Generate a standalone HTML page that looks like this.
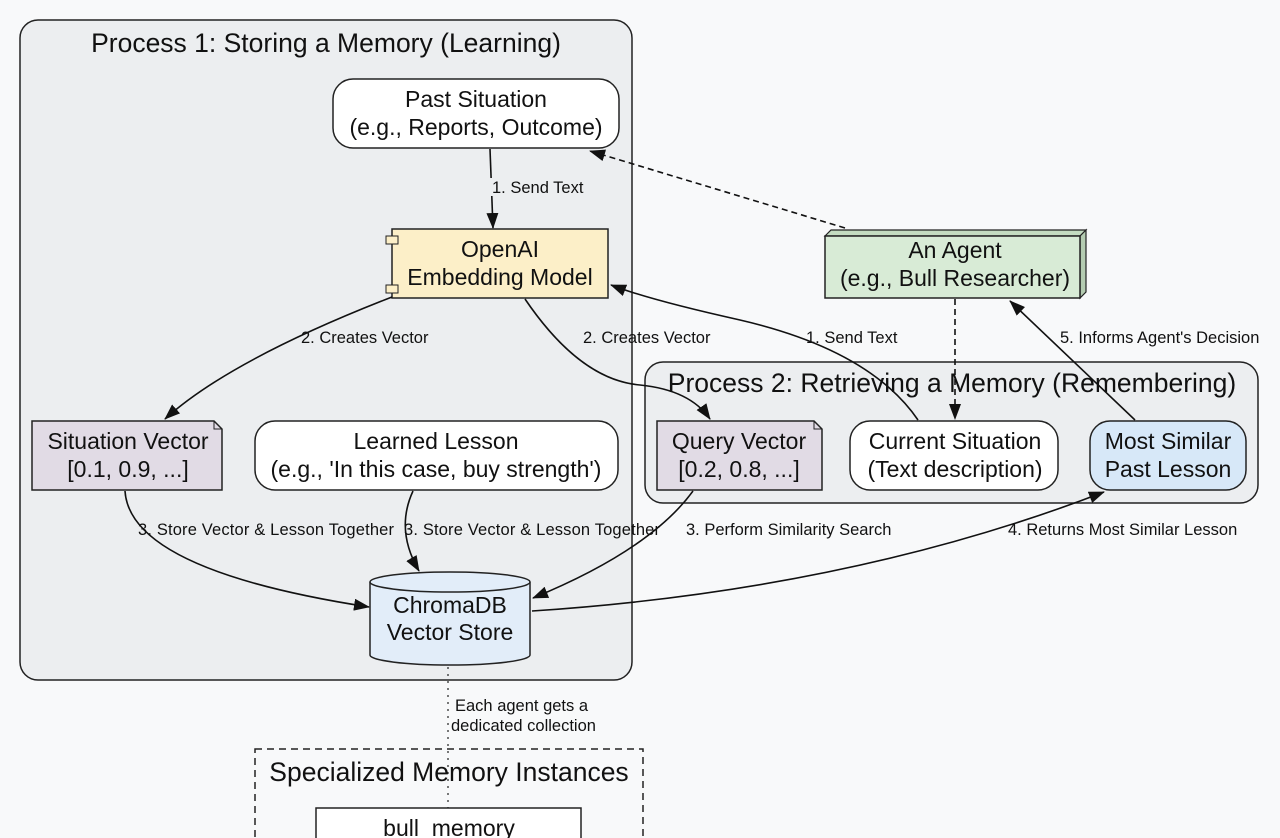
<!DOCTYPE html>
<html><head><meta charset="utf-8"><style>
html,body{margin:0;padding:0;background:#f8f9fa}
svg{display:block}
text{font-family:"Liberation Sans",sans-serif;fill:#111}
.n{font-size:23px;text-anchor:middle}
.l{font-size:16.5px}
.t{font-size:26.5px;text-anchor:middle}
</style></head><body>
<svg width="1280" height="838" viewBox="0 0 1280 838" xmlns="http://www.w3.org/2000/svg">
<defs>
<marker id="a" markerWidth="16" markerHeight="12" refX="15" refY="6" orient="auto" markerUnits="userSpaceOnUse">
<path d="M0,0 L16,6 L0,12 z" fill="#111"/></marker>
</defs>
<rect width="1280" height="838" fill="#f8f9fa"/>
<!-- Process 1 -->
<rect x="20" y="20" width="612" height="660" rx="18" fill="#eceef0" stroke="#222" stroke-width="1.5"/>
<text class="t" x="326" y="52">Process 1: Storing a Memory (Learning)</text>
<!-- Process 2 -->
<rect x="645" y="362" width="613" height="141" rx="18" fill="#eceef0" stroke="#222" stroke-width="1.5"/>
<text class="t" x="952" y="392">Process 2: Retrieving a Memory (Remembering)</text>
<!-- Past situation -->
<rect x="333" y="79" width="286" height="69" rx="20" fill="#fff" stroke="#222" stroke-width="1.5"/>
<text class="n" x="476" y="107">Past Situation</text>
<text class="n" x="476" y="135">(e.g., Reports, Outcome)</text>
<!-- OpenAI -->
<rect x="392" y="229" width="216" height="69" fill="#fcefc8" stroke="#222" stroke-width="1.5"/>
<rect x="386" y="236" width="12" height="8" fill="#fcefc8" stroke="#222"/>
<rect x="386" y="285" width="12" height="8" fill="#fcefc8" stroke="#222"/>
<text class="n" x="500" y="257">OpenAI</text>
<text class="n" x="500" y="285">Embedding Model</text>
<!-- Agent -->
<path d="M825,236 L831,230 L1086,230 L1080,236 z" fill="#c4dcc1" stroke="#222" stroke-width="1.2"/>
<path d="M1080,236 L1086,230 L1086,292 L1080,298 z" fill="#b4ccb1" stroke="#222" stroke-width="1.2"/>
<rect x="825" y="236" width="255" height="62" fill="#d8ebd6" stroke="#222" stroke-width="1.5"/>
<text class="n" x="955" y="258">An Agent</text>
<text class="n" x="955" y="286">(e.g., Bull Researcher)</text>
<!-- Situation vector -->
<path d="M32,421 L214,421 L222,429 L222,490 L32,490 z" fill="#e1dbe5" stroke="#222" stroke-width="1.5"/>
<path d="M214,421 L214,429 L222,429" fill="none" stroke="#222"/>
<text class="n" x="128" y="449">Situation Vector</text>
<text class="n" x="128" y="477">[0.1, 0.9, ...]</text>
<!-- Learned Lesson -->
<rect x="255" y="421" width="363" height="69" rx="20" fill="#fff" stroke="#222" stroke-width="1.5"/>
<text class="n" x="436" y="449">Learned Lesson</text>
<text class="n" x="436" y="477">(e.g., 'In this case, buy strength')</text>
<!-- Query vector -->
<path d="M657,421 L814,421 L822,429 L822,490 L657,490 z" fill="#e1dbe5" stroke="#222" stroke-width="1.5"/>
<path d="M814,421 L814,429 L822,429" fill="none" stroke="#222"/>
<text class="n" x="739" y="449">Query Vector</text>
<text class="n" x="739" y="477">[0.2, 0.8, ...]</text>
<!-- Current situation -->
<rect x="850" y="421" width="208" height="69" rx="20" fill="#fff" stroke="#222" stroke-width="1.5"/>
<text class="n" x="955" y="449">Current Situation</text>
<text class="n" x="955" y="477">(Text description)</text>
<!-- Most similar -->
<rect x="1090" y="421" width="156" height="69" rx="20" fill="#d7e8f8" stroke="#222" stroke-width="1.5"/>
<text class="n" x="1168" y="449">Most Similar</text>
<text class="n" x="1168" y="477">Past Lesson</text>
<!-- Chroma cylinder -->
<path d="M370,582 L370,655 A80,10 0 0 0 530,655 L530,582" fill="#e2edf9" stroke="#222" stroke-width="1.5"/>
<ellipse cx="450" cy="582" rx="80" ry="10" fill="#e2edf9" stroke="#222" stroke-width="1.5"/>
<text class="n" x="450" y="613">ChromaDB</text>
<text class="n" x="450" y="640">Vector Store</text>
<!-- Specialized -->
<rect x="255" y="749" width="388" height="100" fill="none" stroke="#222" stroke-width="1.5" stroke-dasharray="7,5"/>
<text class="t" x="449" y="781">Specialized Memory Instances</text>
<rect x="316" y="808" width="265" height="40" fill="#fff" stroke="#222" stroke-width="1.5"/>
<text class="n" x="449" y="836">bull_memory</text>
<line x1="448" y1="667" x2="448" y2="808" stroke="#222" stroke-width="1.2" stroke-dasharray="2,5"/>
<text class="l" x="455" y="711">Each agent gets a</text>
<text class="l" x="451" y="731">dedicated collection</text>
<!-- edges -->
<g fill="none" stroke="#111" stroke-width="1.6">
<path d="M490,149 L493,228" marker-end="url(#a)"/>
<path d="M845,228 L590,151" stroke-dasharray="6,4" marker-end="url(#a)"/>
<path d="M392,297 Q230,360 165,419" marker-end="url(#a)"/>
<path d="M525,299 Q580,380 640,385 Q690,390 710,419" marker-end="url(#a)"/>
<path d="M918,420 Q870,350 740,320 Q650,300 611,285" marker-end="url(#a)"/>
<path d="M955,299 L955,419" stroke-dasharray="6,4" marker-end="url(#a)"/>
<path d="M1135,420 L1010,301" marker-end="url(#a)"/>
<path d="M125,491 Q130,570 369,607" marker-end="url(#a)"/>
<path d="M413,491 Q395,530 419,571" marker-end="url(#a)"/>
<path d="M693,491 Q650,550 533,598" marker-end="url(#a)"/>
<path d="M532,611 Q850,590 1104,492" marker-end="url(#a)"/>
</g>
<g>
<rect x="490" y="178" width="96" height="18" fill="#eceef0"/>
<text class="l" x="492" y="193">1. Send Text</text>
<text class="l" x="301" y="343">2. Creates Vector</text>
<text class="l" x="583" y="343">2. Creates Vector</text>
<text class="l" x="806" y="343">1. Send Text</text>
<text class="l" x="1060" y="343">5. Informs Agent's Decision</text>
<text class="l" x="138" y="535" textLength="256">3. Store Vector &amp; Lesson Together</text>
<text class="l" x="404" y="535" textLength="256">3. Store Vector &amp; Lesson Together</text>
<text class="l" x="686" y="535">3. Perform Similarity Search</text>
<text class="l" x="1008" y="535">4. Returns Most Similar Lesson</text>
</g>
</svg>
</body></html>
